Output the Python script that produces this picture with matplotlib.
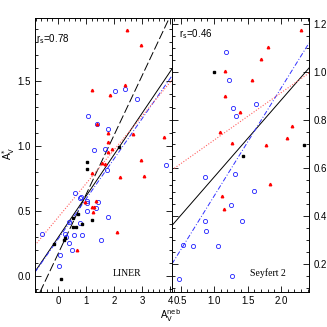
import matplotlib
matplotlib.use('Agg')
import matplotlib.pyplot as plt
import numpy as np
from matplotlib.ticker import MultipleLocator

plt.rcParams['font.family'] = ['Liberation Sans', 'DejaVu Sans']

# LINER panel
liner_red_x = [2.45, 2.95, 2.39, 1.23, 1.85, 1.38, 1.80, 2.69, 3.77, 1.80, 1.80, 1.92,
               1.57, 1.68, 2.95, 1.20, 2.21, 3.07, 0.96, 1.37, 1.21, 1.28, 1.24, 0.67, 2.10]
liner_red_y = [1.89, 1.78, 1.47, 1.43, 1.39, 1.17, 1.10, 1.09, 1.07, 1.03, 0.955, 0.975,
               0.87, 0.86, 0.89, 0.795, 0.76, 0.767, 0.572, 0.58, 0.533, 0.533, 0.49, 0.20, 0.336]
liner_blue_x = [2.04, 2.39, 2.81, 1.07, 1.38, 1.79, 1.67, 1.27, 3.86, 1.74, 0.61, 0.83, 0.79,
                1.05, 1.05, 1.42, 1.36, 1.04, 1.77, 0.39, 0.79, -0.57, 0.25, 0.57, 0.86, 0.38,
                1.52, 0.51, 0.07, 0.04, 0.27]
liner_blue_y = [1.42, 1.44, 1.36, 1.23, 1.17, 1.13, 0.977, 0.969, 0.856, 0.815, 0.636, 0.61, 0.597,
                0.58, 0.56, 0.57, 0.525, 0.50, 0.456, 0.415, 0.41, 0.325, 0.323, 0.315, 0.315, 0.254,
                0.274, 0.197, 0.159, 0.077, 0.30]
liner_black_x = [2.19, 1.02, 1.02, 0.52, 0.70, 0.87, 1.20, 0.52, 0.64, 0.25, 0.23, -0.13, 0.10]
liner_black_y = [0.995, 0.877, 0.823, 0.45, 0.477, 0.40, 0.43, 0.38, 0.38, 0.29, 0.28, 0.246, -0.023]

# Seyfert 2 panel
sy_red_x = [1.16, 1.16, 1.39, 1.09, 1.27, 2.30, 1.81, 1.70, 1.57, 2.17, 2.09, 1.78, 1.12, 1.15, 1.83]
sy_red_y = [1.005, 0.899, 0.833, 0.751, 0.705, 1.174, 1.105, 1.054, 0.968, 0.774, 0.725, 0.696,
            0.485, 0.428, 0.532]
sy_blue_x = [1.18, 1.22, 1.29, 1.33, 1.62, 0.86, 1.32, 1.25, 1.41, 0.86, 0.88, 0.68, 1.06,
             0.47, 1.27, 0.53, 1.60]
sy_blue_y = [1.082, 0.965, 0.851, 0.818, 0.868, 0.5625, 0.575, 0.447, 0.378, 0.379, 0.337,
             0.275, 0.275, 0.136, 0.149, 0.28, 0.505]
sy_black_x = [1.00, 2.34, 1.43]
sy_black_y = [0.999, 0.694, 0.651]

# fits: (intercept, slope)
liner_fits = {'dash': (0.169, 0.457), 'solid': (0.295, 0.319),
              'blue': (0.283, 0.309), 'red': (0.45, 0.26)}
sy_fits = {'solid': (0.242, 0.32), 'blue': (0.034, 0.449), 'red': (0.519, 0.197)}

fig = plt.figure(figsize=(3.27, 3.27), dpi=100)
ax1 = fig.add_axes([0.107, 0.107, 0.419, 0.838])
ax2 = fig.add_axes([0.526, 0.107, 0.419, 0.838])


def draw(ax, rx, ry, bx, by, kx, ky, fits, xlim):
    xx = np.array(xlim)
    if 'dash' in fits:
        a, b = fits['dash']
        ax.plot(xx, a + b * xx, color='black', lw=0.7, dashes=(9, 3))
    a, b = fits['solid']
    ax.plot(xx, a + b * xx, color='black', lw=0.7)
    a, b = fits['blue']
    ax.plot(xx, a + b * xx, color='#3030ff', lw=0.7, dashes=(5, 2, 1, 2))
    a, b = fits['red']
    ax.plot(xx, a + b * xx, color='#ff6060', lw=0.8, dashes=(1, 1.5))
    ax.plot(bx, by, 'o', mfc='none', mec='#2020ff', mew=0.6, ms=3.0, ls='none')
    ax.plot(rx, ry, '^', color='#ff0000', ms=1.8, ls='none')
    ax.plot(kx, ky, 's', color='black', ms=1.6, ls='none')
    ax.set_xlim(xlim)


draw(ax1, liner_red_x, liner_red_y, liner_blue_x, liner_blue_y,
     liner_black_x, liner_black_y, liner_fits, (-0.82, 4.07))
ax1.set_ylim(-0.123, 1.985)
draw(ax2, sy_red_x, sy_red_y, sy_blue_x, sy_blue_y,
     sy_black_x, sy_black_y, sy_fits, (0.37, 2.42))
ax2.set_ylim(0.083, 1.225)

ax1.xaxis.set_major_locator(MultipleLocator(1))
ax1.xaxis.set_minor_locator(MultipleLocator(0.2))
ax1.yaxis.set_major_locator(MultipleLocator(0.5))
ax1.yaxis.set_minor_locator(MultipleLocator(0.1))
ax2.xaxis.set_major_locator(MultipleLocator(0.5))
ax2.xaxis.set_minor_locator(MultipleLocator(0.1))
ax2.yaxis.set_major_locator(MultipleLocator(0.2))
ax2.yaxis.set_minor_locator(MultipleLocator(0.05))

for ax in (ax1, ax2):
    ax.tick_params(which='both', direction='in', top=True, bottom=True, left=True, right=True,
                   labelsize=7, width=0.6, pad=3)
    ax.tick_params(which='major', length=4)
    ax.tick_params(which='minor', length=2)
    for s in ax.spines.values():
        s.set_linewidth(0.7)
ax2.tick_params(labelleft=False, labelright=True)

ax1.text(0.005, 0.923, r'r$_{\rm s}$=0.78', transform=ax1.transAxes, fontsize=7, va='center')
ax2.text(0.053, 0.94, r'r$_{\rm s}$=0.46', transform=ax2.transAxes, fontsize=7, va='center')
ax1.text(0.67, 0.069, 'LINER', transform=ax1.transAxes, fontsize=7, ha='center', va='center',
         family='Liberation Serif')
ax2.text(0.70, 0.07, 'Seyfert 2', transform=ax2.transAxes, fontsize=7, ha='center', va='center',
         family='Liberation Serif')

fig.text(0.52, 0.036, r'A$_{\rm V}^{\rm neb}$', fontsize=7, ha='center', va='center')
fig.text(0.025, 0.53, r'A$_{\rm V}^{*}$', fontsize=7, ha='center', va='center', rotation=90)

fig.savefig('out.png', dpi=100)
